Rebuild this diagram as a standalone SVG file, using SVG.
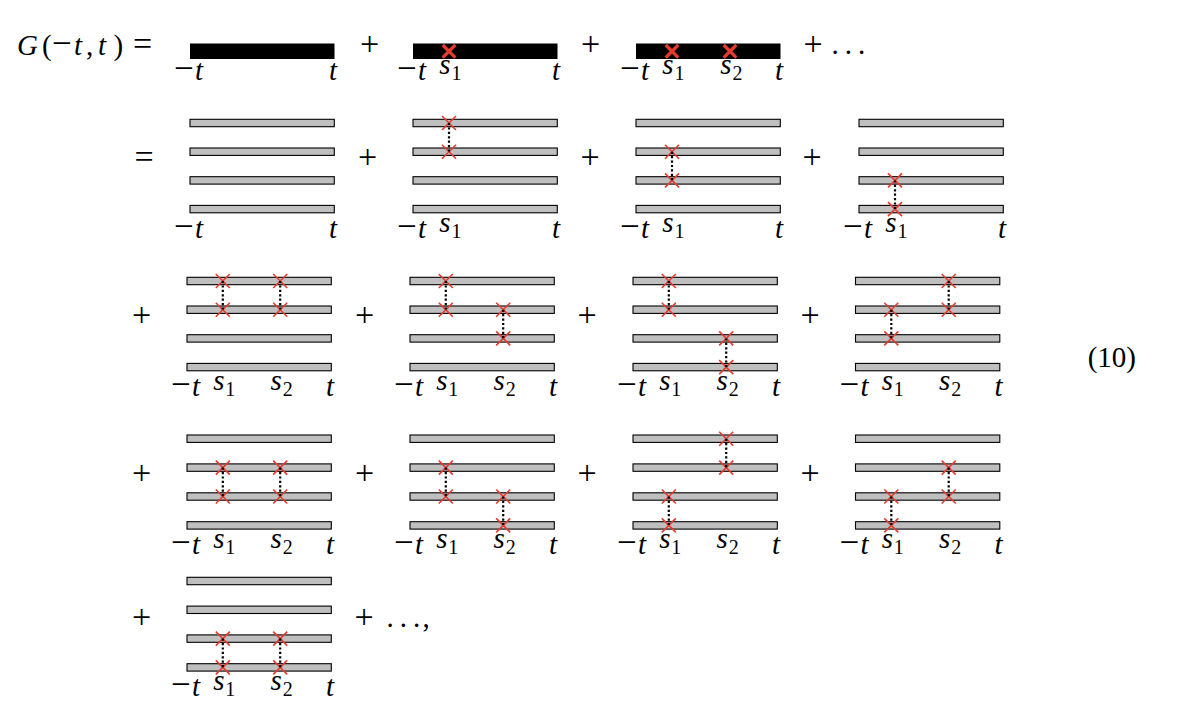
<svg xmlns="http://www.w3.org/2000/svg" xmlns:xlink="http://www.w3.org/1999/xlink" width="1180" height="726" viewBox="0 0 1180 726">
<style>
.bar{fill:#bfbfbf;stroke:#000;stroke-width:1.1}
.bk{fill:#000}
.x{stroke:#e63b2e;stroke-width:1.6;fill:none}
.xb{stroke:#e63b2e;stroke-width:3.3;fill:none}
.dot{stroke:#000;stroke-width:2.2;stroke-dasharray:2.2 2.2;fill:none}
text{font-family:"Liberation Serif","Times New Roman",serif;font-size:29px;fill:#000}
.i{font-style:italic}
.op{font-size:34px}
.mn{font-size:35px}
.sub{font-size:20px;font-style:normal}
</style>
<defs>
<rect id="bar" class="bar" width="144.3" height="7.4"/>
<rect id="bbar" class="bk" width="144.5" height="15.5"/>
<path id="cx" d="M-7 -7L7 7M7 -7L-7 7"/>
<path id="cxb" d="M-6.3 -6.3L6.3 6.3M6.3 -6.3L-6.3 6.3"/>
</defs>
<rect width="1180" height="726" fill="#fff"/>

<!-- Row 1 -->
<g id="lhs">
<text y="55"><tspan class="i" x="17">G</tspan><tspan x="42">(</tspan><tspan class="mn" x="52">−</tspan><tspan class="i" x="74">t</tspan><tspan x="86">,</tspan><tspan class="i" x="98">t</tspan><tspan x="113.5">)</tspan></text>
<text class="op" x="142.5" y="55" text-anchor="middle">=</text>
</g>
<g id="r1d1">
<use xlink:href="#bbar" x="190" y="43.5"/>
<text y="80"><tspan class="mn" x="174">−</tspan><tspan class="i" x="195">t</tspan></text>
<text class="i" x="333" y="80" text-anchor="middle">t</text>
</g>
<text class="op" x="369.5" y="55" text-anchor="middle">+</text>
<g id="r1d2">
<use xlink:href="#bbar" x="413" y="43.5"/>
<use class="xb" xlink:href="#cxb" x="449" y="51.3"/>
<text y="80"><tspan class="mn" x="397">−</tspan><tspan class="i" x="418">t</tspan></text>
<text class="i" y="74"><tspan x="445" text-anchor="middle">s</tspan><tspan class="sub" x="456.5" y="80" text-anchor="middle">1</tspan></text>
<text class="i" x="556" y="80" text-anchor="middle">t</text>
</g>
<text class="op" x="590.5" y="55" text-anchor="middle">+</text>
<g id="r1d3">
<use xlink:href="#bbar" x="636" y="43.5"/>
<use class="xb" xlink:href="#cxb" x="672" y="51.3"/>
<use class="xb" xlink:href="#cxb" x="730" y="51.3"/>
<text y="80"><tspan class="mn" x="620">−</tspan><tspan class="i" x="641">t</tspan></text>
<text class="i" y="74"><tspan x="668" text-anchor="middle">s</tspan><tspan class="sub" x="679.5" y="80" text-anchor="middle">1</tspan></text>
<text class="i" y="74"><tspan x="726" text-anchor="middle">s</tspan><tspan class="sub" x="737.5" y="80" text-anchor="middle">2</tspan></text>
<text class="i" x="779" y="80" text-anchor="middle">t</text>
</g>
<g id="r1tail">
<text class="op" x="813" y="55" text-anchor="middle">+</text>
<text x="835" y="54" text-anchor="middle">.</text>
<text x="848.3" y="54" text-anchor="middle">.</text>
<text x="861.7" y="54" text-anchor="middle">.</text>
</g>

<!-- Row 2 -->
<text class="op" x="144" y="168" text-anchor="middle">=</text>
<g id="r2d1">
<use xlink:href="#bar" x="190" y="119.3"/><use xlink:href="#bar" x="190" y="148"/><use xlink:href="#bar" x="190" y="176.7"/><use xlink:href="#bar" x="190" y="205.4"/>
<text y="238"><tspan class="mn" x="174">−</tspan><tspan class="i" x="195">t</tspan></text>
<text class="i" x="333" y="238" text-anchor="middle">t</text>
</g>
<text class="op" x="367.5" y="168" text-anchor="middle">+</text>
<g id="r2d2">
<use xlink:href="#bar" x="413" y="119.3"/><use xlink:href="#bar" x="413" y="148"/><use xlink:href="#bar" x="413" y="176.7"/><use xlink:href="#bar" x="413" y="205.4"/>
<use class="x" xlink:href="#cx" x="449" y="123"/><use class="x" xlink:href="#cx" x="449" y="151.7"/>
<text y="238"><tspan class="mn" x="397">−</tspan><tspan class="i" x="418">t</tspan></text>
<text class="i" y="232"><tspan x="445" text-anchor="middle">s</tspan><tspan class="sub" x="456.5" y="238" text-anchor="middle">1</tspan></text>
<text class="i" x="556" y="238" text-anchor="middle">t</text>
</g>
<text class="op" x="590" y="168" text-anchor="middle">+</text>
<g id="r2d3">
<use xlink:href="#bar" x="636" y="119.3"/><use xlink:href="#bar" x="636" y="148"/><use xlink:href="#bar" x="636" y="176.7"/><use xlink:href="#bar" x="636" y="205.4"/>
<use class="x" xlink:href="#cx" x="672" y="151.7"/><use class="x" xlink:href="#cx" x="672" y="180.4"/>
<text y="238"><tspan class="mn" x="620">−</tspan><tspan class="i" x="641">t</tspan></text>
<text class="i" y="232"><tspan x="668" text-anchor="middle">s</tspan><tspan class="sub" x="679.5" y="238" text-anchor="middle">1</tspan></text>
<text class="i" x="779" y="238" text-anchor="middle">t</text>
</g>
<text class="op" x="812" y="168" text-anchor="middle">+</text>
<g id="r2d4">
<use xlink:href="#bar" x="859" y="119.3"/><use xlink:href="#bar" x="859" y="148"/><use xlink:href="#bar" x="859" y="176.7"/><use xlink:href="#bar" x="859" y="205.4"/>
<use class="x" xlink:href="#cx" x="895" y="180.4"/><use class="x" xlink:href="#cx" x="895" y="209.1"/>
<text y="238"><tspan class="mn" x="843">−</tspan><tspan class="i" x="864">t</tspan></text>
<text class="i" y="232"><tspan x="891" text-anchor="middle">s</tspan><tspan class="sub" x="902.5" y="238" text-anchor="middle">1</tspan></text>
<text class="i" x="1002" y="238" text-anchor="middle">t</text>
</g>

<!-- Row 3 -->
<text class="op" x="141.5" y="326" text-anchor="middle">+</text>
<g id="r3d1">
<use xlink:href="#bar" x="187" y="277.3"/><use xlink:href="#bar" x="187" y="306"/><use xlink:href="#bar" x="187" y="334.7"/><use xlink:href="#bar" x="187" y="363.4"/>
<use class="x" xlink:href="#cx" x="222.8" y="281"/><use class="x" xlink:href="#cx" x="222.8" y="309.7"/>
<use class="x" xlink:href="#cx" x="280.2" y="281"/><use class="x" xlink:href="#cx" x="280.2" y="309.7"/>
<text y="396"><tspan class="mn" x="171">−</tspan><tspan class="i" x="192">t</tspan></text>
<text class="i" y="390"><tspan x="218.8" text-anchor="middle">s</tspan><tspan class="sub" x="230.3" y="396" text-anchor="middle">1</tspan></text>
<text class="i" y="390"><tspan x="276.2" text-anchor="middle">s</tspan><tspan class="sub" x="287.7" y="396" text-anchor="middle">2</tspan></text>
<text class="i" x="330" y="396" text-anchor="middle">t</text>
</g>
<text class="op" x="364.5" y="326" text-anchor="middle">+</text>
<g id="r3d2">
<use xlink:href="#bar" x="410" y="277.3"/><use xlink:href="#bar" x="410" y="306"/><use xlink:href="#bar" x="410" y="334.7"/><use xlink:href="#bar" x="410" y="363.4"/>
<use class="x" xlink:href="#cx" x="445.8" y="281"/><use class="x" xlink:href="#cx" x="445.8" y="309.7"/>
<use class="x" xlink:href="#cx" x="503.2" y="309.7"/><use class="x" xlink:href="#cx" x="503.2" y="338.4"/>
<text y="396"><tspan class="mn" x="394">−</tspan><tspan class="i" x="415">t</tspan></text>
<text class="i" y="390"><tspan x="441.8" text-anchor="middle">s</tspan><tspan class="sub" x="453.3" y="396" text-anchor="middle">1</tspan></text>
<text class="i" y="390"><tspan x="499.2" text-anchor="middle">s</tspan><tspan class="sub" x="510.7" y="396" text-anchor="middle">2</tspan></text>
<text class="i" x="553" y="396" text-anchor="middle">t</text>
</g>
<text class="op" x="587" y="326" text-anchor="middle">+</text>
<g id="r3d3">
<use xlink:href="#bar" x="633" y="277.3"/><use xlink:href="#bar" x="633" y="306"/><use xlink:href="#bar" x="633" y="334.7"/><use xlink:href="#bar" x="633" y="363.4"/>
<use class="x" xlink:href="#cx" x="668.8" y="281"/><use class="x" xlink:href="#cx" x="668.8" y="309.7"/>
<use class="x" xlink:href="#cx" x="726.2" y="338.4"/><use class="x" xlink:href="#cx" x="726.2" y="367.1"/>
<text y="396"><tspan class="mn" x="617">−</tspan><tspan class="i" x="638">t</tspan></text>
<text class="i" y="390"><tspan x="664.8" text-anchor="middle">s</tspan><tspan class="sub" x="676.3" y="396" text-anchor="middle">1</tspan></text>
<text class="i" y="390"><tspan x="722.2" text-anchor="middle">s</tspan><tspan class="sub" x="733.7" y="396" text-anchor="middle">2</tspan></text>
<text class="i" x="776" y="396" text-anchor="middle">t</text>
</g>
<text class="op" x="810" y="326" text-anchor="middle">+</text>
<g id="r3d4">
<use xlink:href="#bar" x="855.5" y="277.3"/><use xlink:href="#bar" x="855.5" y="306"/><use xlink:href="#bar" x="855.5" y="334.7"/><use xlink:href="#bar" x="855.5" y="363.4"/>
<use class="x" xlink:href="#cx" x="891.3" y="309.7"/><use class="x" xlink:href="#cx" x="891.3" y="338.4"/>
<use class="x" xlink:href="#cx" x="948.7" y="281"/><use class="x" xlink:href="#cx" x="948.7" y="309.7"/>
<text y="396"><tspan class="mn" x="839.5">−</tspan><tspan class="i" x="860.5">t</tspan></text>
<text class="i" y="390"><tspan x="887.3" text-anchor="middle">s</tspan><tspan class="sub" x="898.8" y="396" text-anchor="middle">1</tspan></text>
<text class="i" y="390"><tspan x="944.7" text-anchor="middle">s</tspan><tspan class="sub" x="956.2" y="396" text-anchor="middle">2</tspan></text>
<text class="i" x="998.5" y="396" text-anchor="middle">t</text>
</g>
<text id="eqnum" x="1136" y="367" text-anchor="end">(10)</text>

<!-- Row 4 -->
<text class="op" x="141.5" y="484" text-anchor="middle">+</text>
<g id="r4d1">
<use xlink:href="#bar" x="187" y="435"/><use xlink:href="#bar" x="187" y="463.9"/><use xlink:href="#bar" x="187" y="492.8"/><use xlink:href="#bar" x="187" y="521.7"/>
<use class="x" xlink:href="#cx" x="222.8" y="467.6"/><use class="x" xlink:href="#cx" x="222.8" y="496.5"/>
<use class="x" xlink:href="#cx" x="280.2" y="467.6"/><use class="x" xlink:href="#cx" x="280.2" y="496.5"/>
<text y="554"><tspan class="mn" x="171">−</tspan><tspan class="i" x="192">t</tspan></text>
<text class="i" y="548"><tspan x="218.8" text-anchor="middle">s</tspan><tspan class="sub" x="230.3" y="554" text-anchor="middle">1</tspan></text>
<text class="i" y="548"><tspan x="276.2" text-anchor="middle">s</tspan><tspan class="sub" x="287.7" y="554" text-anchor="middle">2</tspan></text>
<text class="i" x="330" y="554" text-anchor="middle">t</text>
</g>
<text class="op" x="364.5" y="484" text-anchor="middle">+</text>
<g id="r4d2">
<use xlink:href="#bar" x="410" y="435"/><use xlink:href="#bar" x="410" y="463.9"/><use xlink:href="#bar" x="410" y="492.8"/><use xlink:href="#bar" x="410" y="521.7"/>
<use class="x" xlink:href="#cx" x="445.8" y="467.6"/><use class="x" xlink:href="#cx" x="445.8" y="496.5"/>
<use class="x" xlink:href="#cx" x="503.2" y="496.5"/><use class="x" xlink:href="#cx" x="503.2" y="525.4"/>
<text y="554"><tspan class="mn" x="394">−</tspan><tspan class="i" x="415">t</tspan></text>
<text class="i" y="548"><tspan x="441.8" text-anchor="middle">s</tspan><tspan class="sub" x="453.3" y="554" text-anchor="middle">1</tspan></text>
<text class="i" y="548"><tspan x="499.2" text-anchor="middle">s</tspan><tspan class="sub" x="510.7" y="554" text-anchor="middle">2</tspan></text>
<text class="i" x="553" y="554" text-anchor="middle">t</text>
</g>
<text class="op" x="587" y="484" text-anchor="middle">+</text>
<g id="r4d3">
<use xlink:href="#bar" x="633" y="435"/><use xlink:href="#bar" x="633" y="463.9"/><use xlink:href="#bar" x="633" y="492.8"/><use xlink:href="#bar" x="633" y="521.7"/>
<use class="x" xlink:href="#cx" x="668.8" y="496.5"/><use class="x" xlink:href="#cx" x="668.8" y="525.4"/>
<use class="x" xlink:href="#cx" x="726.2" y="438.7"/><use class="x" xlink:href="#cx" x="726.2" y="467.6"/>
<text y="554"><tspan class="mn" x="617">−</tspan><tspan class="i" x="638">t</tspan></text>
<text class="i" y="548"><tspan x="664.8" text-anchor="middle">s</tspan><tspan class="sub" x="676.3" y="554" text-anchor="middle">1</tspan></text>
<text class="i" y="548"><tspan x="722.2" text-anchor="middle">s</tspan><tspan class="sub" x="733.7" y="554" text-anchor="middle">2</tspan></text>
<text class="i" x="776" y="554" text-anchor="middle">t</text>
</g>
<text class="op" x="810" y="484" text-anchor="middle">+</text>
<g id="r4d4">
<use xlink:href="#bar" x="855.5" y="435"/><use xlink:href="#bar" x="855.5" y="463.9"/><use xlink:href="#bar" x="855.5" y="492.8"/><use xlink:href="#bar" x="855.5" y="521.7"/>
<use class="x" xlink:href="#cx" x="891.3" y="496.5"/><use class="x" xlink:href="#cx" x="891.3" y="525.4"/>
<use class="x" xlink:href="#cx" x="948.7" y="467.6"/><use class="x" xlink:href="#cx" x="948.7" y="496.5"/>
<text y="554"><tspan class="mn" x="839.5">−</tspan><tspan class="i" x="860.5">t</tspan></text>
<text class="i" y="548"><tspan x="887.3" text-anchor="middle">s</tspan><tspan class="sub" x="898.8" y="554" text-anchor="middle">1</tspan></text>
<text class="i" y="548"><tspan x="944.7" text-anchor="middle">s</tspan><tspan class="sub" x="956.2" y="554" text-anchor="middle">2</tspan></text>
<text class="i" x="998.5" y="554" text-anchor="middle">t</text>
</g>

<!-- Row 5 -->
<text class="op" x="141.5" y="628" text-anchor="middle">+</text>
<g id="r5d1">
<use xlink:href="#bar" x="187" y="577.3"/><use xlink:href="#bar" x="187" y="606.1"/><use xlink:href="#bar" x="187" y="634.9"/><use xlink:href="#bar" x="187" y="663.7"/>
<use class="x" xlink:href="#cx" x="222.8" y="638.6"/><use class="x" xlink:href="#cx" x="222.8" y="667.4"/>
<use class="x" xlink:href="#cx" x="280.2" y="638.6"/><use class="x" xlink:href="#cx" x="280.2" y="667.4"/>
<text y="696"><tspan class="mn" x="171">−</tspan><tspan class="i" x="192">t</tspan></text>
<text class="i" y="690"><tspan x="218.8" text-anchor="middle">s</tspan><tspan class="sub" x="230.3" y="696" text-anchor="middle">1</tspan></text>
<text class="i" y="690"><tspan x="276.2" text-anchor="middle">s</tspan><tspan class="sub" x="287.7" y="696" text-anchor="middle">2</tspan></text>
<text class="i" x="330" y="696" text-anchor="middle">t</text>
</g>
<g id="r5tail">
<text class="op" x="364" y="628" text-anchor="middle">+</text>
<text x="390" y="627" text-anchor="middle">.</text>
<text x="403.3" y="627" text-anchor="middle">.</text>
<text x="416.7" y="627" text-anchor="middle">.</text>
<text x="426" y="627" text-anchor="middle">,</text>
</g>

<!-- Connectors: dotted links between paired crosses -->
<g id="connectors" class="dot">
<line x1="449" y1="123" x2="449" y2="151.7"/>
<line x1="672" y1="151.7" x2="672" y2="180.4"/>
<line x1="895" y1="180.4" x2="895" y2="209.1"/>
<line x1="222.8" y1="281" x2="222.8" y2="309.7"/>
<line x1="280.2" y1="281" x2="280.2" y2="309.7"/>
<line x1="445.8" y1="281" x2="445.8" y2="309.7"/>
<line x1="503.2" y1="309.7" x2="503.2" y2="338.4"/>
<line x1="668.8" y1="281" x2="668.8" y2="309.7"/>
<line x1="726.2" y1="338.4" x2="726.2" y2="367.1"/>
<line x1="891.3" y1="309.7" x2="891.3" y2="338.4"/>
<line x1="948.7" y1="281" x2="948.7" y2="309.7"/>
<line x1="222.8" y1="467.6" x2="222.8" y2="496.5"/>
<line x1="280.2" y1="467.6" x2="280.2" y2="496.5"/>
<line x1="445.8" y1="467.6" x2="445.8" y2="496.5"/>
<line x1="503.2" y1="496.5" x2="503.2" y2="525.4"/>
<line x1="668.8" y1="496.5" x2="668.8" y2="525.4"/>
<line x1="726.2" y1="438.7" x2="726.2" y2="467.6"/>
<line x1="891.3" y1="496.5" x2="891.3" y2="525.4"/>
<line x1="948.7" y1="467.6" x2="948.7" y2="496.5"/>
<line x1="222.8" y1="638.6" x2="222.8" y2="667.4"/>
<line x1="280.2" y1="638.6" x2="280.2" y2="667.4"/>
</g>
</svg>
